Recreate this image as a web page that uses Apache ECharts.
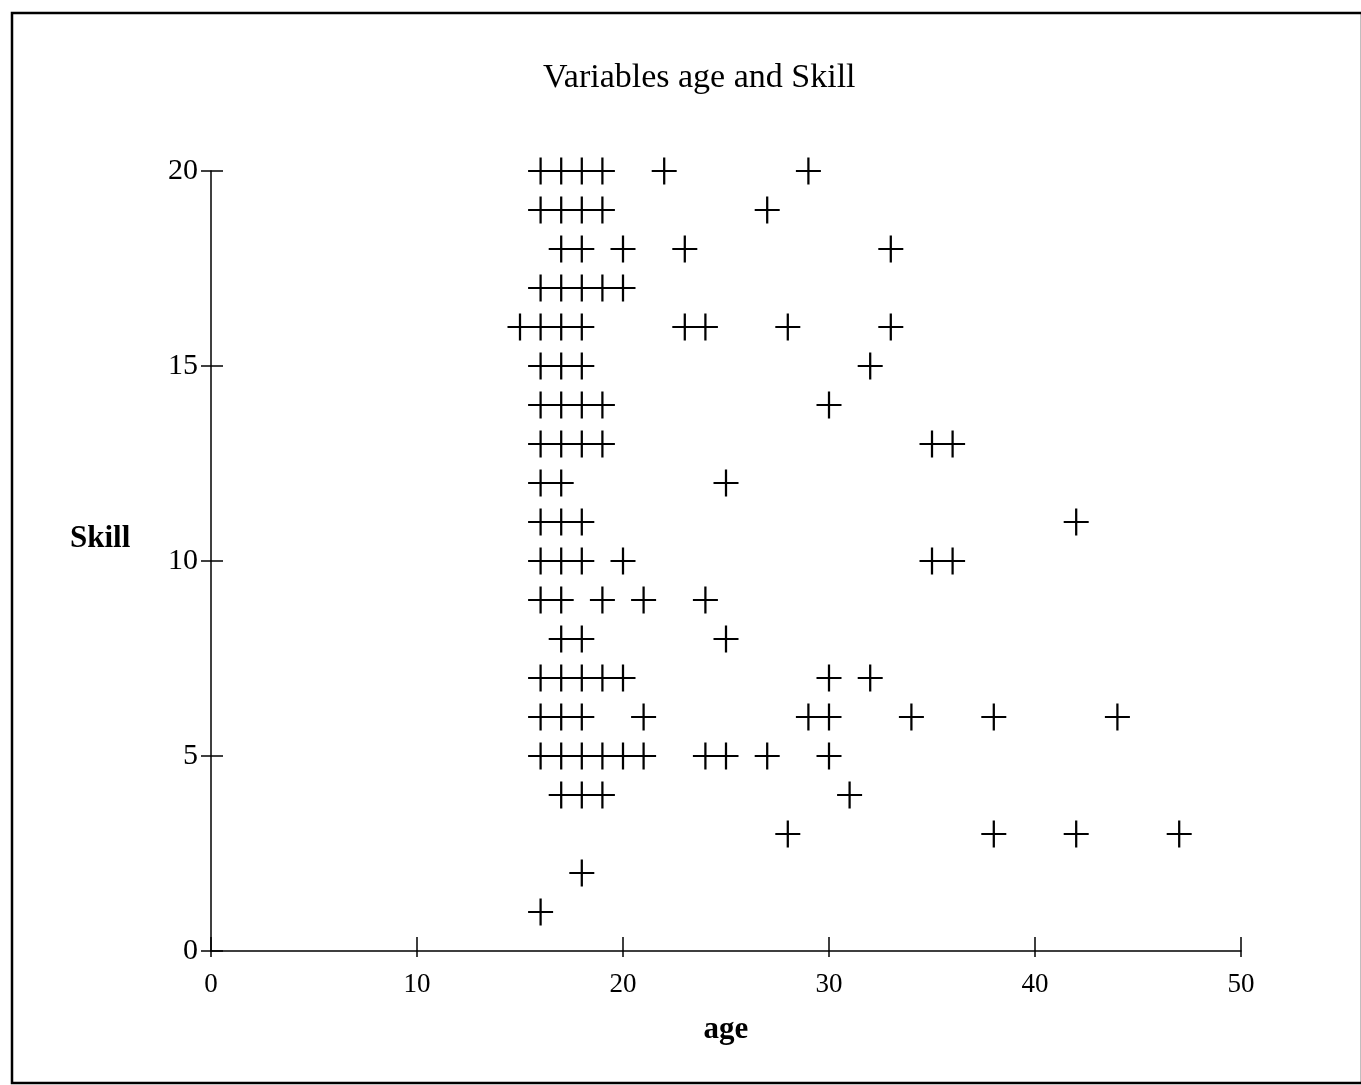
<!DOCTYPE html>
<html>
<head>
<meta charset="UTF-8">
<title>Variables age and Skill</title>
<script type="text/javascript" src="https://cdn.jsdelivr.net/npm/echarts@6/dist/echarts.min.js"></script>
<style>
  html, body { margin: 0; padding: 0; background: #fff; }
</style>
</head>
<body>
	<div id="show" style="width:1361px;height:1085px"></div>
	<script type="text/javascript">
		// one entry per point: age and Skill
		var ages = [
			16,17,18,19,22,29,
			16,17,18,19,27,
			17,18,20,23,33,
			16,17,18,19,20,
			15,16,17,18,23,24,28,33,
			16,17,18,32,
			16,17,18,19,30,
			16,17,18,19,35,36,
			16,17,25,
			16,17,18,42,
			16,17,18,20,35,36,
			16,17,19,21,24,
			17,18,25,
			16,17,18,19,20,30,32,
			16,17,18,21,29,30,34,38,44,
			16,17,18,19,20,21,24,25,27,30,
			17,18,19,31,
			28,38,42,47,
			18,
			16
		];
		var skills = [
			20,20,20,20,20,20,
			19,19,19,19,19,
			18,18,18,18,18,
			17,17,17,17,17,
			16,16,16,16,16,16,16,16,
			15,15,15,15,
			14,14,14,14,14,
			13,13,13,13,13,13,
			12,12,12,
			11,11,11,11,
			10,10,10,10,10,10,
			9,9,9,9,9,
			8,8,8,
			7,7,7,7,7,7,7,
			6,6,6,6,6,6,6,6,6,
			5,5,5,5,5,5,5,5,5,5,
			4,4,4,4,
			3,3,3,3,
			2,
			1
		];
		var xTicks = [0, 10, 20, 30, 40, 50];
		var yTicks = [0, 5, 10, 15, 20];

		var points = [];
		for (var i = 0; i < ages.length; i++) {
			points.push([ages[i], skills[i]]);
		}

		var serif = '"Liberation Serif", "DejaVu Serif", serif';
		var cross = 'path://M-0.09,-1H0.09V1H-0.09Z M-1,-0.065H1V0.065H-1Z';

		var myCharts = echarts.init(document.getElementById('show'));
		myCharts.setOption({
			animation: false,
			backgroundColor: '#fff',
			title: {
				text: 'Variables age and Skill',
				left: 538,
				top: 56,
				textStyle: { fontFamily: serif, fontWeight: 'normal', fontSize: 34, color: '#000' }
			},
			graphic: [{
				type: 'rect',
				shape: { x: 12, y: 13, width: 1350, height: 1070 },
				style: { fill: 'none', stroke: '#000', lineWidth: 2.5 },
				silent: true
			}, {
				// y axis name sits above the middle of the axis in the original
				type: 'text',
				left: 70,
				top: 523,
				style: { text: 'Skill', fill: '#000', font: 'bold 31px "Liberation Serif", serif' },
				silent: true
			}],
			grid: { left: 211, right: 120, top: 171, bottom: 134 },
			xAxis: [{
				type: 'value',
				min: xTicks[0],
				max: xTicks[xTicks.length - 1],
				interval: 10,
				name: 'age',
				nameLocation: 'middle',
				nameGap: 63,
				nameTextStyle: { fontFamily: serif, fontWeight: 'bold', fontSize: 31, color: '#000', verticalAlign: 'top' },
				splitLine: { show: false },
				axisLine: { lineStyle: { color: '#000', width: 1.5 } },
				axisTick: { length: 6, lineStyle: { color: '#000', width: 1.5 } },
				axisLabel: { margin: 20, fontFamily: serif, fontSize: 27, color: '#000' }
			}, {
				type: 'value',
				position: 'bottom',
				min: xTicks[0],
				max: xTicks[xTicks.length - 1],
				interval: 10,
				splitLine: { show: false },
				axisLine: { show: false },
				axisTick: { inside: true, length: 14, lineStyle: { color: '#000', width: 1.5 } },
				axisLabel: { show: false }
			}],
			yAxis: [{
				type: 'value',
				min: yTicks[0],
				max: yTicks[yTicks.length - 1],
				interval: 5,
				splitLine: { show: false },
				axisLine: { lineStyle: { color: '#000', width: 1.5 } },
				axisTick: { length: 10, lineStyle: { color: '#000', width: 1.5 } },
				axisLabel: { margin: 13, fontFamily: serif, fontSize: 30, color: '#000' }
			}, {
				type: 'value',
				position: 'left',
				min: yTicks[0],
				max: yTicks[yTicks.length - 1],
				interval: 5,
				splitLine: { show: false },
				axisLine: { show: false },
				axisTick: { inside: true, length: 12, lineStyle: { color: '#000', width: 1.5 } },
				axisLabel: { show: false }
			}],
			series: [{
				name: 'age vs Skill',
				type: 'scatter',
				xAxisIndex: 0,
				yAxisIndex: 0,
				symbol: cross,
				symbolSize: [25, 27],
				itemStyle: { color: '#000', opacity: 1 },
				data: points
			}]
		});
	</script>
</body>
</html>
